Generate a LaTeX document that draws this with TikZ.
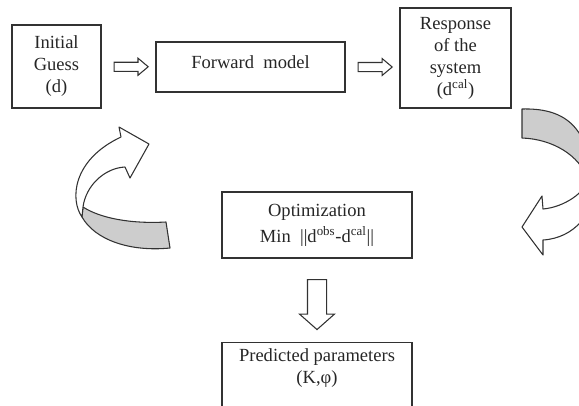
\documentclass[tikz,border=0pt]{standalone}
\usepackage{fontspec}
\setmainfont{Liberation Serif}
\usetikzlibrary{shapes.arrows,calc}
\definecolor{edge}{RGB}{50,50,50}
\definecolor{band}{RGB}{205,205,205}

\begin{document}
\begin{tikzpicture}[x=0.75pt, y=-0.75pt,
  font=\fontsize{13.9}{16.5}\selectfont, text=black!85,
  box/.style={draw=edge, line width=1pt, inner sep=0pt, align=center},
  hollow/.style={draw=edge, line width=0.8pt, fill=white, single arrow,
    single arrow head indent=0pt},
  curl/.style={draw=edge, line width=0.8pt, line join=round}]
  \useasboundingbox (0,0) rectangle (579,405);
  \clip (0,0) rectangle (579,405);
  % process boxes
  \node[box, minimum width=66.75pt, minimum height=62.25pt] (guess) at (56.5,66.5)
    {Initial\\Guess\\(d)};
  \node[box, minimum width=141.75pt, minimum height=37.5pt, text depth=7.5pt] (fwd)
    at (250.5,67) {Forward\ \ model};
  \node[box, minimum width=83.25pt, minimum height=75pt] (resp) at (455.5,58)
    {Response\\of the\\system\\(d\textsuperscript{cal})};
  \node[box, minimum width=142.5pt, minimum height=49.5pt] (opt) at (317,225)
    {Optimization\\[3pt]Min\ \ ||d\textsuperscript{obs}-d\textsuperscript{cal}||};
  \node[box, minimum width=142.5pt, anchor=north, text height=30.75pt, text depth=27.75pt]
    (pred) at (317,342) {Predicted parameters\\(K,φ)};
  % hollow arrows between the boxes
  \node[hollow, inner sep=3pt, minimum height=25.5pt,
    single arrow head extend=3pt, single arrow tip angle=80] (a1)
    at ($(guess.east)!0.5!(fwd.west)$) {};
  \node[hollow, inner sep=3pt, minimum height=25.5pt,
    single arrow head extend=3pt, single arrow tip angle=80] (a2)
    at ($(fwd.east)!0.5!(fwd.east -| resp.west)$) {};
  \node[hollow, inner sep=6.75pt, minimum height=37.5pt, shape border rotate=270,
    single arrow head extend=6pt, single arrow tip angle=97] (a3)
    at ($(opt.south)!0.5!(pred.north)$) {};
  % curved arrow on the left, back to the start
  \draw[curl, fill=band] (83,207) .. controls (100,218) and (130,224) .. (166,222)
    -- (170,248) .. controls (130,252) and (95,240) .. (82,217) -- cycle;
  \draw[curl, fill=white] (82,217) .. controls (70,200) and (72,160) .. (121,137)
    -- (119,127) -- (149,144) -- (130,178) -- (125,167)
    .. controls (105,168) and (86,185) .. (83,207) -- cycle;
  % curved arrow on the right, down to the optimization
  \draw[curl, fill=band] (522,109) .. controls (560,108) and (592,122) .. (592,190)
    -- (588,180) .. controls (580,155) and (552,139) .. (522,138) -- cycle;
  \draw[curl, fill=white] (592,190) .. controls (594,212) and (575,238) .. (543,240)
    -- (543,255) -- (522,227) -- (542,196) -- (543,209)
    .. controls (565,207) and (585,192) .. (588,180) -- cycle;
\end{tikzpicture}
\end{document}
